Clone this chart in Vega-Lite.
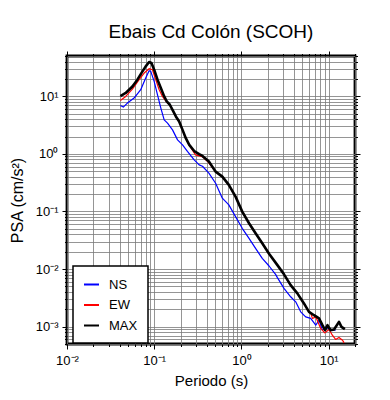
{
  "$schema": "https://vega.github.io/schema/vega-lite/v6.json",
  "width": 288,
  "height": 288,
  "autosize": "none",
  "padding": {"left": 67, "top": 56, "right": 35, "bottom": 56},
  "background": "white",
  "title": {"text": "Ebais Cd Colón (SCOH)", "fontSize": 19, "font": "Liberation Sans", "fontWeight": "normal", "offset": 8, "anchor": "middle", "color": "black"},
  "config": {"view": {"stroke": "black", "strokeWidth": 2.8}, "font": "Liberation Sans", "legend": {"strokeWidth": 1.5}},
  "data": {"values": [
    {"s": "NS", "T": 0.0409, "psa": 6.92}, {"s": "NS", "T": 0.0442, "psa": 6.49}, {"s": "NS", "T": 0.0492, "psa": 7.62}, {"s": "NS", "T": 0.0587, "psa": 9.31}, {"s": "NS", "T": 0.07, "psa": 13.0}, {"s": "NS", "T": 0.0798, "psa": 20.7}, {"s": "NS", "T": 0.0873, "psa": 27.8}, {"s": "NS", "T": 0.0912, "psa": 27.0}, {"s": "NS", "T": 0.0998, "psa": 18.1}, {"s": "NS", "T": 0.109, "psa": 10.6}, {"s": "NS", "T": 0.119, "psa": 6.23}, {"s": "NS", "T": 0.13, "psa": 3.9}, {"s": "NS", "T": 0.142, "psa": 3.42}, {"s": "NS", "T": 0.162, "psa": 2.61}, {"s": "NS", "T": 0.185, "psa": 1.75}, {"s": "NS", "T": 0.211, "psa": 1.43}, {"s": "NS", "T": 0.24, "psa": 1.1}, {"s": "NS", "T": 0.287, "psa": 0.787}, {"s": "NS", "T": 0.327, "psa": 0.644}, {"s": "NS", "T": 0.357, "psa": 0.61}, {"s": "NS", "T": 0.423, "psa": 0.462}, {"s": "NS", "T": 0.505, "psa": 0.309}, {"s": "NS", "T": 0.603, "psa": 0.17}, {"s": "NS", "T": 0.716, "psa": 0.13}, {"s": "NS", "T": 0.855, "psa": 0.0813}, {"s": "NS", "T": 1.02, "psa": 0.051}, {"s": "NS", "T": 1.22, "psa": 0.0342}, {"s": "NS", "T": 1.45, "psa": 0.0229}, {"s": "NS", "T": 1.73, "psa": 0.0153}, {"s": "NS", "T": 2.07, "psa": 0.0113}, {"s": "NS", "T": 2.47, "psa": 0.008}, {"s": "NS", "T": 2.58, "psa": 0.0071}, {"s": "NS", "T": 3.07, "psa": 0.00462}, {"s": "NS", "T": 3.66, "psa": 0.0033}, {"s": "NS", "T": 4.18, "psa": 0.0027}, {"s": "NS", "T": 4.77, "psa": 0.00181}, {"s": "NS", "T": 5.44, "psa": 0.00148}, {"s": "NS", "T": 6.21, "psa": 0.00139}, {"s": "NS", "T": 7.1, "psa": 0.00106}, {"s": "NS", "T": 7.74, "psa": 0.0013}, {"s": "NS", "T": 8.47, "psa": 0.00087}, {"s": "NS", "T": 9.25, "psa": 0.000993}, {"s": "NS", "T": 10.5, "psa": 0.00087}, {"s": "NS", "T": 12.0, "psa": 0.00087},
    {"s": "EW", "T": 0.0409, "psa": 8.46}, {"s": "EW", "T": 0.0471, "psa": 9.93}, {"s": "EW", "T": 0.0562, "psa": 13.3}, {"s": "EW", "T": 0.0671, "psa": 19.4}, {"s": "EW", "T": 0.0766, "psa": 25.3}, {"s": "EW", "T": 0.0873, "psa": 30.1}, {"s": "EW", "T": 0.0953, "psa": 28.9}, {"s": "EW", "T": 0.104, "psa": 19.4}, {"s": "EW", "T": 0.114, "psa": 13.0}, {"s": "EW", "T": 0.124, "psa": 9.93}, {"s": "EW", "T": 0.139, "psa": 7.9}, {"s": "EW", "T": 0.151, "psa": 7.0}, {"s": "EW", "T": 0.162, "psa": 5.7}, {"s": "EW", "T": 0.177, "psa": 4.4}, {"s": "EW", "T": 0.193, "psa": 3.6}, {"s": "EW", "T": 0.211, "psa": 2.6}, {"s": "EW", "T": 0.23, "psa": 1.85}, {"s": "EW", "T": 0.252, "psa": 1.42}, {"s": "EW", "T": 0.297, "psa": 0.962}, {"s": "EW", "T": 0.355, "psa": 0.898}, {"s": "EW", "T": 0.416, "psa": 0.718}, {"s": "EW", "T": 0.505, "psa": 0.49}, {"s": "EW", "T": 0.603, "psa": 0.4}, {"s": "EW", "T": 0.716, "psa": 0.287}, {"s": "EW", "T": 0.855, "psa": 0.18}, {"s": "EW", "T": 1.02, "psa": 0.099}, {"s": "EW", "T": 1.22, "psa": 0.0622}, {"s": "EW", "T": 1.45, "psa": 0.0416}, {"s": "EW", "T": 1.73, "psa": 0.0279}, {"s": "EW", "T": 2.07, "psa": 0.0184}, {"s": "EW", "T": 2.58, "psa": 0.0117}, {"s": "EW", "T": 3.07, "psa": 0.008}, {"s": "EW", "T": 3.66, "psa": 0.00525}, {"s": "EW", "T": 4.37, "psa": 0.00377}, {"s": "EW", "T": 5.2, "psa": 0.00252}, {"s": "EW", "T": 5.94, "psa": 0.0018}, {"s": "EW", "T": 6.21, "psa": 0.00174}, {"s": "EW", "T": 6.5, "psa": 0.00139}, {"s": "EW", "T": 7.1, "psa": 0.00148}, {"s": "EW", "T": 8.09, "psa": 0.000931}, {"s": "EW", "T": 9.0, "psa": 0.00078}, {"s": "EW", "T": 10.1, "psa": 0.000895}, {"s": "EW", "T": 11.0, "psa": 0.000711}, {"s": "EW", "T": 12.0, "psa": 0.000599}, {"s": "EW", "T": 13.1, "psa": 0.000649}, {"s": "EW", "T": 14.4, "psa": 0.000582}, {"s": "EW", "T": 15.0, "psa": 0.000523},
    {"s": "MAX", "T": 0.0409, "psa": 10.1}, {"s": "MAX", "T": 0.0471, "psa": 11.4}, {"s": "MAX", "T": 0.0562, "psa": 14.8}, {"s": "MAX", "T": 0.0641, "psa": 19.4}, {"s": "MAX", "T": 0.0733, "psa": 27.0}, {"s": "MAX", "T": 0.0798, "psa": 33.0}, {"s": "MAX", "T": 0.0873, "psa": 39.3}, {"s": "MAX", "T": 0.0929, "psa": 37.8}, {"s": "MAX", "T": 0.0998, "psa": 28.9}, {"s": "MAX", "T": 0.109, "psa": 19.4}, {"s": "MAX", "T": 0.119, "psa": 13.9}, {"s": "MAX", "T": 0.13, "psa": 9.93}, {"s": "MAX", "T": 0.139, "psa": 8.13}, {"s": "MAX", "T": 0.151, "psa": 7.12}, {"s": "MAX", "T": 0.162, "psa": 5.82}, {"s": "MAX", "T": 0.177, "psa": 4.46}, {"s": "MAX", "T": 0.193, "psa": 3.65}, {"s": "MAX", "T": 0.211, "psa": 2.61}, {"s": "MAX", "T": 0.23, "psa": 1.87}, {"s": "MAX", "T": 0.252, "psa": 1.43}, {"s": "MAX", "T": 0.287, "psa": 1.12}, {"s": "MAX", "T": 0.327, "psa": 0.989}, {"s": "MAX", "T": 0.357, "psa": 0.92}, {"s": "MAX", "T": 0.423, "psa": 0.735}, {"s": "MAX", "T": 0.505, "psa": 0.492}, {"s": "MAX", "T": 0.603, "psa": 0.403}, {"s": "MAX", "T": 0.716, "psa": 0.289}, {"s": "MAX", "T": 0.855, "psa": 0.181}, {"s": "MAX", "T": 1.02, "psa": 0.0993}, {"s": "MAX", "T": 1.22, "psa": 0.0624}, {"s": "MAX", "T": 1.45, "psa": 0.0418}, {"s": "MAX", "T": 1.73, "psa": 0.028}, {"s": "MAX", "T": 2.07, "psa": 0.0185}, {"s": "MAX", "T": 2.58, "psa": 0.0117}, {"s": "MAX", "T": 3.07, "psa": 0.0081}, {"s": "MAX", "T": 3.66, "psa": 0.00527}, {"s": "MAX", "T": 4.37, "psa": 0.00378}, {"s": "MAX", "T": 5.2, "psa": 0.00253}, {"s": "MAX", "T": 5.94, "psa": 0.00181}, {"s": "MAX", "T": 6.78, "psa": 0.00158}, {"s": "MAX", "T": 7.74, "psa": 0.00139}, {"s": "MAX", "T": 8.47, "psa": 0.00106}, {"s": "MAX", "T": 9.08, "psa": 0.00087}, {"s": "MAX", "T": 9.67, "psa": 0.00106}, {"s": "MAX", "T": 10.5, "psa": 0.00087}, {"s": "MAX", "T": 11.5, "psa": 0.000895}, {"s": "MAX", "T": 13.1, "psa": 0.00121}, {"s": "MAX", "T": 14.0, "psa": 0.000993}, {"s": "MAX", "T": 15.3, "psa": 0.000906}
  ]},
  "layer": [
    {
      "mark": {"type": "line", "clip": true, "strokeJoin": "round"},
      "encoding": {
        "x": {"field": "T", "type": "quantitative", "scale": {"type": "log", "domain": [0.01, 20], "nice": false},
          "axis": {"orient": "bottom", "values": [0.01,0.02,0.03,0.04,0.05,0.06,0.07,0.08,0.09,0.1,0.2,0.3,0.4,0.5,0.6,0.7,0.8,0.9,1,2,3,4,5,6,7,8,9,10,20],
            "grid": true, "gridColor": "#7a7a7a", "gridWidth": 0.8, "domain": false, "tickColor": "black", "tickWidth": 1,
            "tickSize": {"condition": {"test": "datum.value==0.01||datum.value==0.1||datum.value==1||datum.value==10", "value": 5}, "value": 2.5},
            "labelExpr": "datum.value==0.01?'10⁻²':datum.value==0.1?'10⁻¹':datum.value==1?'10⁰':datum.value==10?'10¹':''",
            "labelFontSize": 13, "labelColor": "black", "labelPadding": 5, "labelOverlap": false, "labelFlush": false,
            "title": "Periodo (s)", "titleFontSize": 15, "titleFontWeight": "normal", "titleColor": "black", "titlePadding": 6}},
        "y": {"field": "psa", "type": "quantitative", "scale": {"type": "log", "domain": [0.0005, 50], "nice": false},
          "axis": {"orient": "left", "values": [0.0005,0.0006,0.0007,0.0008,0.0009,0.001,0.002,0.003,0.004,0.005,0.006,0.007,0.008,0.009,0.01,0.02,0.03,0.04,0.05,0.06,0.07,0.08,0.09,0.1,0.2,0.3,0.4,0.5,0.6,0.7,0.8,0.9,1,2,3,4,5,6,7,8,9,10,20,30,40,50],
            "grid": true, "gridColor": "#7a7a7a", "gridWidth": 0.8, "domain": false, "tickColor": "black", "tickWidth": 1,
            "tickSize": {"condition": {"test": "datum.value==0.001||datum.value==0.01||datum.value==0.1||datum.value==1||datum.value==10", "value": 5}, "value": 2.5},
            "labelExpr": "datum.value==0.001?'10⁻³':datum.value==0.01?'10⁻²':datum.value==0.1?'10⁻¹':datum.value==1?'10⁰':datum.value==10?'10¹':''",
            "labelFontSize": 13, "labelColor": "black", "labelPadding": 4, "labelOverlap": false, "labelFlush": false,
            "title": "PSA (cm/s²)", "titleFontSize": 16, "titleFontWeight": "normal", "titleColor": "black", "titlePadding": 10}},
        "color": {"field": "s", "type": "nominal", "sort": ["NS", "EW", "MAX"],
          "scale": {"domain": ["NS", "EW", "MAX"], "range": ["#0000ff", "#ff0000", "#000000"]},
          "legend": {"orient": "none", "legendX": 6, "legendY": 210, "title": null, "fillColor": "white", "strokeColor": "black",
            "padding": 10, "symbolType": "stroke", "symbolSize": 225, "symbolStrokeWidth": 2, "labelFontSize": 13, "labelColor": "black",
            "labelOffset": 9, "rowPadding": 4.5, "labelExpr": "datum.label + '\u00a0\u00a0\u00a0\u00a0\u00a0'"}},
        "strokeWidth": {"condition": {"test": "datum.s=='MAX'", "value": 2.6}, "value": 1.2}
      }
    },
    {
      "mark": {"type": "point", "opacity": 0},
      "encoding": {
        "x": {"field": "T", "type": "quantitative", "scale": {"type": "log", "domain": [0.01, 20], "nice": false},
          "axis": {"orient": "top", "values": [0.01,0.02,0.03,0.04,0.05,0.06,0.07,0.08,0.09,0.1,0.2,0.3,0.4,0.5,0.6,0.7,0.8,0.9,1,2,3,4,5,6,7,8,9,10,20],
            "grid": false, "domain": false, "labels": false, "title": null, "tickColor": "black", "tickWidth": 1,
            "tickSize": {"condition": {"test": "datum.value==0.01||datum.value==0.1||datum.value==1||datum.value==10", "value": 5}, "value": 2.5}}},
        "y": {"field": "psa", "type": "quantitative", "scale": {"type": "log", "domain": [0.0005, 50], "nice": false},
          "axis": {"orient": "right", "values": [0.0005,0.0006,0.0007,0.0008,0.0009,0.001,0.002,0.003,0.004,0.005,0.006,0.007,0.008,0.009,0.01,0.02,0.03,0.04,0.05,0.06,0.07,0.08,0.09,0.1,0.2,0.3,0.4,0.5,0.6,0.7,0.8,0.9,1,2,3,4,5,6,7,8,9,10,20,30,40,50],
            "grid": false, "domain": false, "labels": false, "title": null, "tickColor": "black", "tickWidth": 1,
            "tickSize": {"condition": {"test": "datum.value==0.001||datum.value==0.01||datum.value==0.1||datum.value==1||datum.value==10", "value": 5}, "value": 2.5}}}
      }
    }
  ],
  "resolve": {"axis": {"x": "independent", "y": "independent"}}
}
